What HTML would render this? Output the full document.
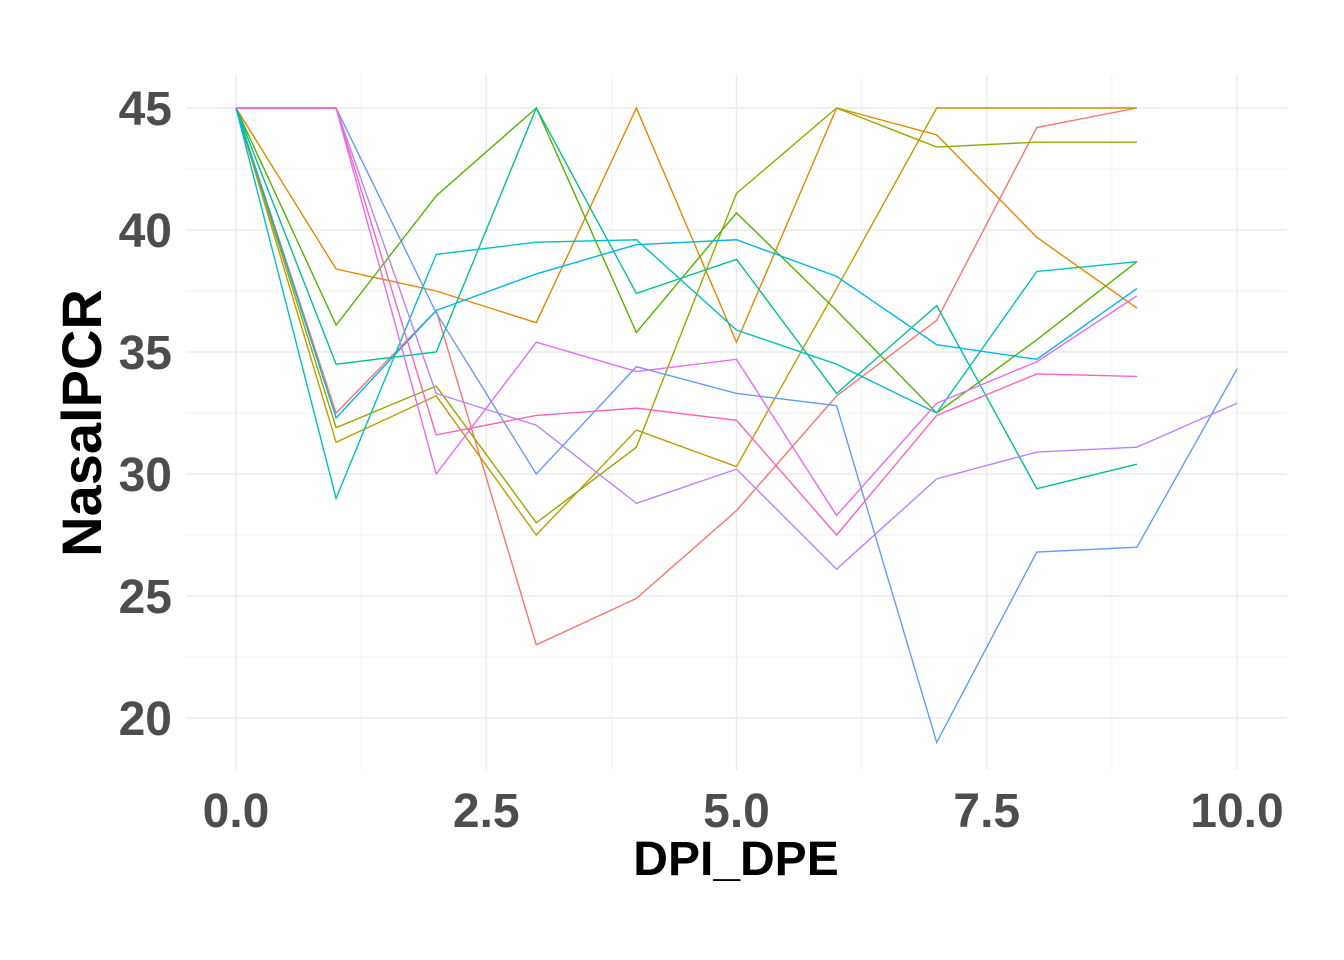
<!DOCTYPE html>
<html><head><meta charset="utf-8"><style>body{margin:0;background:#fff}svg{display:block}</style></head>
<body>
<svg id="chart" width="1344" height="960" xmlns="http://www.w3.org/2000/svg" font-family="Liberation Sans, sans-serif">
<g id="grid"></g>
<g id="lines"></g>
<g id="axes"></g>
<text x="736" y="875" text-anchor="middle" font-size="48" font-weight="bold" fill="#000">DPI_DPE</text>
<text transform="translate(101,423) rotate(-90)" text-anchor="middle" font-size="56" font-weight="bold" fill="#000">NasalPCR</text>
</svg>
<script>
const xTicks=[0,2.5,5,7.5,10];
const xTickLabels=["0.0","2.5","5.0","7.5","10.0"];
const yTicks=[20,25,30,35,40,45];
const yTickLabels=["20","25","30","35","40","45"];
const colors=["#F8766D","#E58700","#C49A00","#99A800","#53B400","#00C094","#00BFC4","#00B6EB","#619CFF","#B983FF","#E76BF3","#FF62BC"];
const s1=[[0,45],[1,32.5],[2,36.7],[3,23],[4,24.9],[5,28.5],[6,33.2],[7,36.3],[8,44.2],[9,45]];
const s2=[[0,45],[1,38.4],[2,37.5],[3,36.2],[4,45],[5,35.4],[6,45],[7,43.9],[8,39.7],[9,36.8]];
const s3=[[0,45],[1,31.3],[2,33.2],[3,27.5],[4,31.8],[5,30.3],[6,37.6],[7,45],[8,45],[9,45]];
const s4=[[0,45],[1,31.9],[2,33.6],[3,28],[4,31.1],[5,41.5],[6,45],[7,43.4],[8,43.6],[9,43.6]];
const s5=[[0,45],[1,36.1],[2,41.4],[3,45],[4,35.8],[5,40.7],[6,36.7],[7,32.5],[8,35.5],[9,38.7]];
const s6=[[0,45],[1,34.5],[2,35],[3,45],[4,37.4],[5,38.8],[6,33.3],[7,36.9],[8,29.4],[9,30.4]];
const s7=[[0,45],[1,29],[2,39],[3,39.5],[4,39.6],[5,35.9],[6,34.5],[7,32.5],[8,38.3],[9,38.7]];
const s8=[[0,45],[1,32.3],[2,36.7],[3,38.2],[4,39.4],[5,39.6],[6,38.1],[7,35.3],[8,34.7],[9,37.6]];
const s9=[[0,45],[1,45],[2,36.6],[3,30],[4,34.4],[5,33.3],[6,32.8],[7,19],[8,26.8],[9,27],[10,34.3]];
const s10=[[0,45],[1,45],[2,33.3],[3,32],[4,28.8],[5,30.2],[6,26.1],[7,29.8],[8,30.9],[9,31.1],[10,32.9]];
const s11=[[0,45],[1,45],[2,30],[3,35.4],[4,34.2],[5,34.7],[6,28.3],[7,32.9],[8,34.6],[9,37.3]];
const s12=[[0,45],[1,45],[2,31.6],[3,32.4],[4,32.7],[5,32.2],[6,27.5],[7,32.4],[8,34.1],[9,34]];
const series=[s1,s2,s3,s4,s5,s6,s7,s8,s9,s10,s11,s12];
const X=v=>236+v*100.1, Y=v=>108+(45-v)*24.4;
const NS="http://www.w3.org/2000/svg";
const L=75,R=1287,T=75,B=770;
function mk(tag,attrs,parent){const e=document.createElementNS(NS,tag);for(const k in attrs)e.setAttribute(k,attrs[k]);parent.appendChild(e);return e;}
const grid=document.getElementById('grid'),lines=document.getElementById('lines'),axes=document.getElementById('axes');
for(let v=1.25;v<10.5;v+=2.5){const g=mk('line',{x1:X(v),x2:X(v),y1:T,y2:B,stroke:'#f2f2f2','stroke-width':1},grid);}
for(let v=17.5;v<=47.5;v+=5){if(Y(v)<T||Y(v)>B)continue;const g=mk('line',{x1:186,x2:R,y1:Y(v),y2:Y(v),stroke:'#f2f2f2','stroke-width':1},grid);}
xTicks.forEach((v,i)=>{const g=mk('line',{x1:X(v),x2:X(v),y1:T,y2:B,stroke:'#ebebeb','stroke-width':1.5},grid);
const t=mk('text',{x:X(v),y:827,'text-anchor':'middle','font-size':48,'font-weight':'bold',fill:'#4d4d4d'},axes);t.textContent=xTickLabels[i];});
yTicks.forEach((v,i)=>{const g=mk('line',{x1:186,x2:R,y1:Y(v),y2:Y(v),stroke:'#ebebeb','stroke-width':1.5},grid);
const t=mk('text',{x:172,y:Y(v)+17,'text-anchor':'end','font-size':48,'font-weight':'bold',fill:'#4d4d4d'},axes);t.textContent=yTickLabels[i];});
series.forEach((s,i)=>{const p=mk('polyline',{points:s.map(d=>X(d[0])+','+Y(d[1])).join(' '),fill:'none',stroke:colors[i],'stroke-width':1.4},lines);});
</script>
</body></html>
